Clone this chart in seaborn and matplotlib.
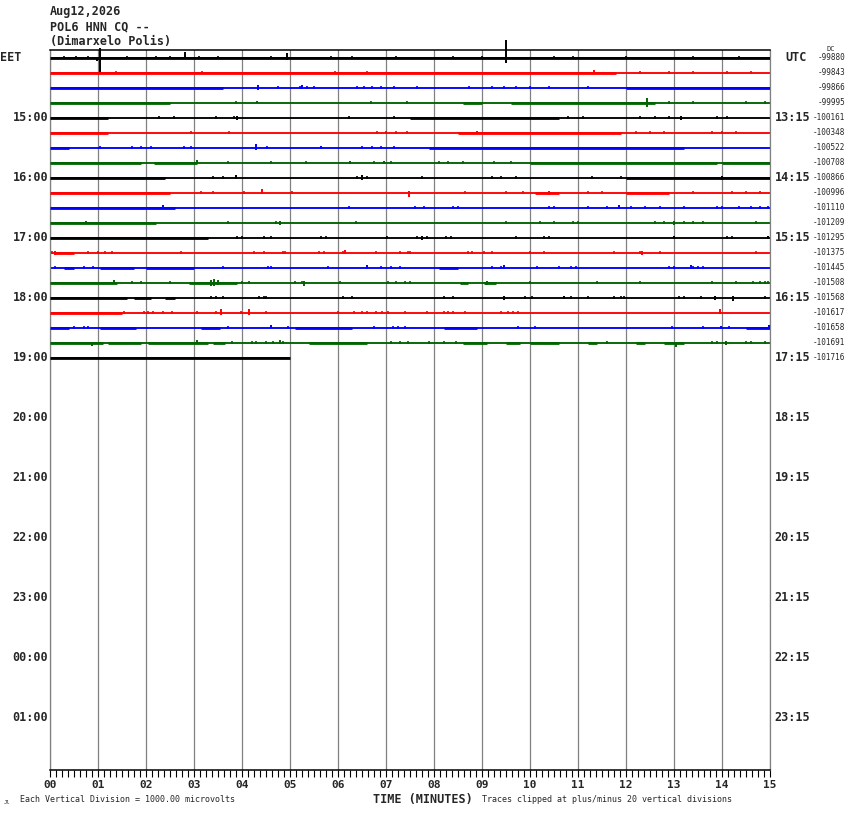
import matplotlib
matplotlib.use("Agg")
import numpy as np
import pandas as pd
import matplotlib.pyplot as plt
import seaborn as sns

# ---------------- data ----------------
date_label = "Aug12,2026"
station_label = "POL6 HNN CQ --"
site_label = "(Dimarxelo Polis)"

minute_ticks = list(range(16))
minute_labels = ["00", "01", "02", "03", "04", "05", "06", "07",
                 "08", "09", "10", "11", "12", "13", "14", "15"]

left_hours = ["15:00", "16:00", "17:00", "18:00", "19:00", "20:00",
              "21:00", "22:00", "23:00", "00:00", "01:00"]
right_hours = ["13:15", "14:15", "15:15", "16:15", "17:15", "18:15",
               "19:15", "20:15", "21:15", "22:15", "23:15"]
hour_rows = [4, 8, 12, 16, 20, 24, 28, 32, 36, 40, 44]

dc_offsets = [-99880, -99843, -99866, -99995, -100161, -100348, -100522,
              -100708, -100866, -100996, -101110, -101209, -101295, -101375,
              -101445, -101508, -101568, -101617, -101658, -101691, -101716]

trace_colors = ["black", "#ff0000", "#0000ff", "#006400"]

# minute at which each 15-minute trace ends
trace_end = [15, 15, 15, 15, 15, 15, 15, 15, 15, 15, 15, 15, 15, 15, 15,
             15, 15, 15, 15, 15, 5.0]

# stretches of dense small-amplitude noise (start, end) in minutes
noisy = [
    [(0, 15)],
    [(0, 11.8)],
    [(0, 3.6), (12.0, 15)],
    [(0, 2.5), (8.6, 9.0), (9.6, 12.6)],
    [(0, 1.2), (7.5, 10.6)],
    [(0, 1.2), (8.5, 11.9)],
    [(0, 0.4), (7.9, 13.2)],
    [(0, 1.9), (2.17, 3.07), (10.0, 13.9), (14.0, 15)],
    [(0, 2.4), (12.0, 15)],
    [(0, 2.5), (10.1, 10.6), (12.0, 12.9)],
    [(0, 2.6)],
    [(0, 2.2)],
    [(0, 3.3)],
    [(0.1, 0.5)],
    [(0.3, 0.5), (1.05, 1.75), (2.0, 3.0), (8.1, 8.5)],
    [(0, 1.4), (2.9, 3.9), (8.55, 8.7), (9.05, 9.3)],
    [(0, 1.6), (1.75, 2.1), (2.4, 2.6)],
    [(0, 1.5)],
    [(0, 0.4), (1.05, 1.8), (3.15, 3.55), (5.1, 6.3), (8.2, 8.9), (14.5, 15)],
    [(0, 1.1), (1.2, 1.9), (2.05, 3.3), (3.4, 3.65), (5.4, 6.6), (8.6, 9.1),
     (9.5, 9.8), (10.0, 10.6), (11.2, 11.4), (12.2, 12.4), (12.8, 13.2)],
    [(0, 5.0)],
]

# isolated small blips (minutes)
blips = [
    [0.3, 0.55, 0.8, 1.6, 2.2, 2.5, 3.1, 3.5, 4.6, 5.85, 6.3, 7.2, 8.4, 9.0,
     10.5, 10.9, 12.0, 13.4, 14.35],
    [1.37, 3.17, 5.93, 6.61, 12.3, 12.9, 13.4, 14.1, 14.6],
    [4.74, 5.2, 5.35, 5.5, 6.4, 6.55, 6.7, 6.9, 7.17, 7.65, 8.73, 9.2, 9.45,
     9.7, 10.0, 10.4, 11.2],
    [3.87, 6.68, 7.44, 12.9, 13.4, 14.5, 14.9],
    [2.27, 2.58, 3.45, 3.83, 6.23, 7.17, 10.8, 11.1, 12.3, 12.6, 12.9, 13.9,
     14.1],
    [2.93, 3.73, 6.82, 7.0, 7.2, 7.44, 12.2, 12.5, 12.8, 13.8, 14.0, 14.3],
    [1.05, 1.7, 1.9, 2.1, 2.8, 2.93, 4.53, 6.5, 6.7, 6.9, 7.17],
    [3.7, 4.61, 5.33, 6.75, 7.1, 8.1, 8.3, 8.6, 9.25, 9.6],
    [3.4, 3.6, 6.4, 6.6, 7.76, 9.2, 9.4, 9.7, 11.3, 11.9],
    [3.15, 3.4, 4.05, 5.05, 8.65, 9.5, 9.85, 11.2, 11.5, 13.4, 14.2, 14.5,
     14.8],
    [6.23, 7.6, 7.8, 8.4, 8.5, 10.4, 10.5, 11.2, 11.6, 12.1, 12.4, 12.7, 13.2,
     13.9, 14.0, 14.35, 14.6, 14.8, 14.95],
    [3.7, 4.7, 6.37, 9.5, 10.2, 10.5, 10.9, 11.0, 12.6, 12.8, 13.2, 13.4,
     13.6, 14.7],
    [3.9, 4.0, 4.45, 4.6, 5.65, 5.75, 7.03, 7.65, 7.85, 8.25, 8.35, 9.7, 10.3,
     10.4, 14.1, 14.2],
    [0.05, 0.8, 1.0, 1.15, 1.3, 2.72, 4.25, 4.45, 4.85, 4.9, 5.6, 5.7, 6.1,
     6.8, 7.3, 7.45, 7.5, 8.7, 8.8, 9.05, 9.2, 10.0, 10.3, 11.75, 12.3, 12.7,
     14.7],
    [0.1, 0.7, 0.9, 3.6, 4.55, 4.6, 5.8, 6.9, 7.1, 7.3, 9.2, 9.4, 10.15, 10.6,
     10.85, 10.95, 12.9, 13.0, 13.4, 13.5, 13.6],
    [1.7, 1.9, 2.5, 4.0, 4.15, 5.1, 5.25, 6.05, 7.05, 7.2, 7.4, 7.5, 10.0,
     11.4, 12.3, 13.8, 14.3, 14.65, 14.8, 14.9, 14.95],
    [3.35, 3.45, 3.6, 4.35, 4.45, 4.5, 6.1, 6.3, 8.2, 8.4, 9.9, 10.05, 10.85,
     11.2, 11.75, 11.9, 11.95, 13.1, 13.2, 13.56, 14.9],
    [1.55, 1.95, 2.05, 2.15, 2.35, 2.55, 3.07, 3.45, 3.98, 4.5, 6.0, 6.33,
     6.5, 6.6, 6.8, 6.92, 7.05, 7.4, 7.85, 8.2, 8.3, 8.4, 8.65, 9.4, 9.55,
     9.65, 9.75],
    [0.5, 0.7, 0.8, 3.7, 4.95, 6.75, 7.15, 7.25, 7.4, 9.75, 10.1, 12.95, 13.6,
     14.15],
    [3.8, 4.2, 4.3, 4.5, 4.65, 4.85, 7.1, 7.3, 7.45, 7.9, 8.2, 8.45, 11.6,
     13.8, 13.9, 14.5, 14.6, 14.9],
    [],
]

# larger deflections: (minute, up, down) in pixels of trace deflection
spikes = [
    [(1.05, 10, 14), (9.51, 18, 5), (2.81, 6, 0), (4.94, 5, 2), (0.97, 0, 3)],
    [(11.33, 3, 0)],
    [(4.33, 3, 2), (5.25, 3, 1)],
    [(12.43, 5, 4), (4.32, 2, 0)],
    [(3.9, 2, 2), (13.14, 2, 2)],
    [(8.9, 2, 1)],
    [(4.3, 4, 2), (5.64, 2, 1)],
    [(3.06, 3, 1), (6.26, 2, 1), (6.95, 2, 1)],
    [(3.87, 3, 1), (6.5, 3, 2), (14.0, 2, 2)],
    [(4.42, 4, 1), (7.48, 2, 4), (10.4, 2, 2)],
    [(2.35, 3, 0), (11.85, 3, 1)],
    [(0.75, 2, 1), (4.8, 2, 2), (13.0, 2, 2)],
    [(7.75, 2, 2), (13.0, 2, 1), (14.95, 2, 1)],
    [(6.14, 3, 1), (12.33, 2, 2), (0.1, 2, 2)],
    [(6.6, 3, 1), (9.45, 3, 1), (13.35, 3, 1)],
    [(1.33, 3, 1), (3.35, 3, 3), (3.42, 4, 3), (3.5, 3, 2), (5.3, 2, 3),
     (9.1, 2, 2)],
    [(9.45, 2, 2), (10.7, 2, 1), (13.85, 2, 2), (14.23, 2, 3)],
    [(3.56, 4, 2), (4.15, 4, 2), (13.95, 4, 1)],
    [(4.6, 3, 0), (14.97, 3, 1), (13.97, 2, 1)],
    [(0.88, 1, 3), (3.07, 3, 1), (4.8, 3, 1), (13.04, 1, 4), (14.08, 2, 2)],
    [],
]

# ---------------- figure ----------------
W, H, DPI = 850, 814, 100
sns.set_style("white")
MONO = ["DejaVu Sans Mono", "DejaVu Sans"]
plt.rcParams["font.family"] = MONO

fig = plt.figure(figsize=(W / DPI, H / DPI), dpi=DPI)
ax_l, ax_r, ax_t, ax_b = 50, 770, 50, 770
ax = fig.add_axes([ax_l / W, 1 - ax_b / H, (ax_r - ax_l) / W, (ax_b - ax_t) / H])

n_rows_total = 48
ax.set_xlim(0, 15)
ax.set_ylim(n_rows_total - 0.5, -0.5)
row_px = (ax_b - ax_t) / n_rows_total  # pixels per row

n_traces = len(dc_offsets)
row_color = [trace_colors[k % 4] for k in range(n_traces)]

# base traces through seaborn
base = pd.DataFrame({
    "minute": [v for k in range(n_traces) for v in (0.0, trace_end[k])],
    "level": [k for k in range(n_traces) for _ in range(2)],
    "trace": [str(k) for k in range(n_traces) for _ in range(2)],
})
palette = {str(k): row_color[k] for k in range(n_traces)}
sns.lineplot(data=base, x="minute", y="level", hue="trace", palette=palette,
             estimator=None, sort=False, legend=False, linewidth=1.35, ax=ax,
             solid_capstyle="butt")

# noisy stretches (slightly thicker trace), blips and spikes
for k in range(n_traces):
    for s, e in noisy[k]:
        ax.hlines(k, s, e, colors=row_color[k], linewidth=2.0, zorder=3)
    if blips[k]:
        ax.vlines(blips[k], k - 2.0 / row_px, k + 1.5 / row_px,
                  colors=row_color[k], linewidth=1.2, zorder=3)
    for t, up, dn in spikes[k]:
        ax.vlines(t, k - up / row_px, k + dn / row_px, colors=row_color[k],
                  linewidth=1.4, zorder=4, clip_on=False)

# grid and axes styling
ax.set_xticks(minute_ticks)
ax.set_xticklabels(minute_labels, fontsize=8, fontweight="bold",
                   family=MONO)
ax.set_xticks(np.arange(0, 15.001, 0.125), minor=True)
ax.tick_params(axis="x", which="both", direction="out", length=5,
               width=0.8, color="black", bottom=True, top=False, pad=2.5)
ax.tick_params(axis="y", left=False, labelleft=False)
ax.grid(axis="x", which="major", color="#808080", linewidth=0.9)
ax.grid(axis="y", visible=False)
ax.set_axisbelow(True)
ax.set_xlabel("")
ax.set_ylabel("")
for side in ("left", "right"):
    ax.spines[side].set_color("#808080")
    ax.spines[side].set_linewidth(0.9)
for side in ("top", "bottom"):
    ax.spines[side].set_color("black")
    ax.spines[side].set_linewidth(1.1)

# row labels
ytr = ax.get_yaxis_transform()
ax.text(-50 / 720, 0, "EET", transform=ytr, ha="left", va="center",
        fontsize=8.5, fontweight="bold", clip_on=False)
ax.text(1 + 15 / 720, 0, "UTC", transform=ytr, ha="left", va="center",
        fontsize=8.5, fontweight="bold", clip_on=False)
for r, lab in zip(hour_rows, left_hours):
    ax.text(-2 / 720, r, lab, transform=ytr, ha="right", va="center",
            fontsize=8.5, fontweight="bold", clip_on=False)
for r, lab in zip(hour_rows, right_hours):
    ax.text(1 + 40 / 720, r, lab, transform=ytr, ha="right", va="center",
            fontsize=8.5, fontweight="bold", clip_on=False)
for k, v in enumerate(dc_offsets):
    ax.text(1 + 75 / 720, k, str(v), transform=ytr, ha="right", va="center",
            fontsize=5.5, clip_on=False)
ax.text(1 + 61 / 720, -0.55, "DC", transform=ytr, ha="center", va="center",
        fontsize=5, clip_on=False)

# header
fig.text(50 / W, 1 - 12 / H, date_label, ha="left", va="center",
         fontsize=8.5, fontweight="bold")
fig.text(50 / W, 1 - 27 / H, station_label, ha="left", va="center",
         fontsize=8.5, fontweight="bold")
fig.text(50 / W, 1 - 41 / H, site_label, ha="left", va="center",
         fontsize=8.5, fontweight="bold")

# footer
fig.text(373 / W, 1 - 799 / H, "TIME (MINUTES)", ha="left", va="center",
         fontsize=8.5, fontweight="bold")
fig.text(20 / W, 1 - 800 / H, "Each Vertical Division = 1000.00 microvolts",
         ha="left", va="center", fontsize=6)
fig.text(482 / W, 1 - 800 / H,
         "Traces clipped at plus/minus 20 vertical divisions",
         ha="left", va="center", fontsize=6)
fig.text(4 / W, 1 - 802 / H, "Jl", ha="left", va="center", fontsize=4)

fig.savefig("out.png", dpi=DPI)
